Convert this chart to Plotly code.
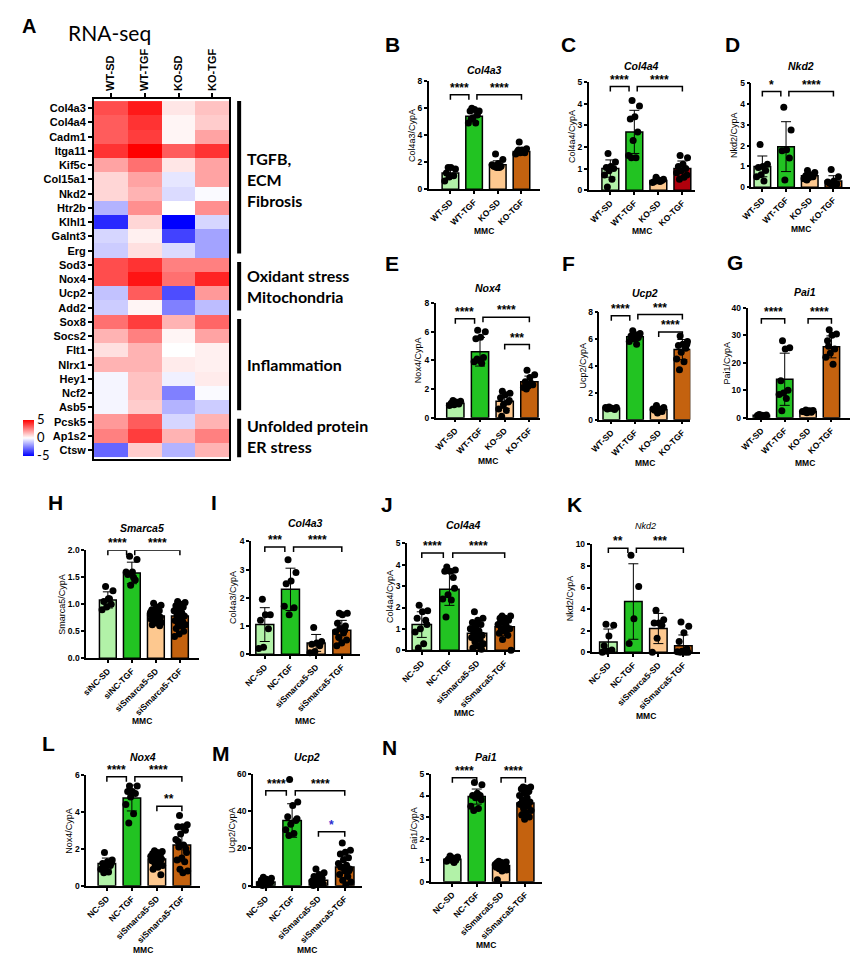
import plotly.graph_objects as go

W, H = 858, 954
FONT = "Liberation Sans, Arial, sans-serif"
FONT_CAL = "Lato, Open Sans, sans-serif"

# ---------------- Heatmap data (panel A) ----------------
genes = ["Col4a3", "Col4a4", "Cadm1", "Itga11", "Kif5c", "Col15a1", "Nkd2", "Htr2b", "Klhl1", "Galnt3", "Erg",
         "Sod3", "Nox4", "Ucp2", "Add2",
         "Sox8", "Socs2", "Flt1", "Nlrx1", "Hey1", "Ncf2", "Asb5",
         "Pcsk5", "Ap1s2", "Ctsw"]
conditions = ["WT-SD", "WT-TGF", "KO-SD", "KO-TGF"]
heat_z = [
    [3.5, 4.5, 0.5, 1.2],
    [3.2, 4.0, 0.2, 1.0],
    [3.2, 3.8, 0.2, 1.8],
    [4.0, 5.0, 3.2, 4.0],
    [1.8, 2.8, 0.5, 1.8],
    [0.8, 1.8, -0.5, 1.8],
    [0.8, 1.5, -0.7, -0.1],
    [-1.5, 2.2, 0.0, 2.2],
    [-4.2, 0.8, -5.0, -0.8],
    [-0.8, 0.3, -3.7, -1.8],
    [-1.0, 0.6, -0.7, -1.8],
    [3.5, 4.0, 2.5, 2.5],
    [3.5, 4.6, 2.8, 4.3],
    [-1.2, 3.2, -3.5, 2.0],
    [-1.0, 0.2, -2.5, -1.3],
    [2.8, 3.8, 1.5, 3.0],
    [1.5, 2.5, 0.2, 1.8],
    [0.6, 1.5, 0.0, 0.3],
    [1.5, 1.5, 0.4, 0.3],
    [-0.2, 1.2, -0.3, 0.4],
    [-0.2, 1.2, -2.5, -0.1],
    [-0.2, 1.0, -1.5, -1.0],
    [2.0, 3.2, -0.8, 1.5],
    [2.5, 3.8, 1.5, 2.5],
    [-3.0, 1.0, -1.5, 1.5],
]
gene_group_labels = ["TGFB,<br>ECM<br>Fibrosis", "Oxidant stress<br>Mitochondria", "Inflammation",
                     "Unfolded protein<br>ER stress"]
gene_group_sizes = [11, 4, 7, 3]

# ---------------- Bar chart data ----------------
cats_mmc = ["WT-SD", "WT-TGF", "KO-SD", "KO-TGF"]
cats_si = ["siNC-SD", "siNC-TGF", "siSmarca5-SD", "siSmarca5-TGF"]
cats_nc = ["NC-SD", "NC-TGF", "siSmarca5-SD", "siSmarca5-TGF"]

# B Col4a3
b_mean = [1.2, 5.4, 1.8, 2.8]
b_sd = [0.35, 0.4, 0.3, 0.25]
b_pts = [[1.6, 1.5, 1.6, 1.2, 1.0, 0.9, 0.6],
         [6.0, 5.8, 5.9, 5.8, 5.5, 5.3, 4.9, 4.9, 5.2],
         [2.6, 2.2, 1.9, 1.7, 1.7, 1.6, 1.8, 1.6, 1.7],
         [3.5, 3.0, 2.9, 2.8, 2.7, 2.7, 2.6, 2.8, 2.9]]
b_sig = [(0, 1, 7.0, "****"), (1, 3, 7.0, "****")]

# C Col4a4
c_mean = [1.0, 2.7, 0.45, 1.0]
c_sd = [0.4, 1.0, 0.08, 0.35]
c_pts = [[1.7, 1.3, 1.1, 1.05, 1.0, 0.9, 0.7, 0.5, 0.15],
         [4.15, 3.9, 3.4, 3.3, 2.7, 2.3, 1.6, 1.5, 1.5],
         [0.6, 0.5, 0.45, 0.4, 0.45, 0.5, 0.35, 0.4],
         [1.6, 1.5, 1.2, 1.1, 1.0, 0.9, 0.8, 0.6, 0.5, 0.7]]
c_sig = [(0, 1, 4.8, "****"), (1, 3, 4.8, "****")]

# D Nkd2
d_mean = [1.0, 1.95, 0.55, 0.3]
d_sd = [0.5, 1.2, 0.15, 0.25]
d_pts = [[2.05, 1.1, 1.0, 0.95, 0.8, 0.6, 0.5, 0.3],
         [3.85, 2.75, 1.8, 1.75, 1.4, 0.35],
         [0.8, 0.7, 0.6, 0.55, 0.5, 0.45, 0.4, 0.5, 0.35],
         [0.85, 0.5, 0.3, 0.2, 0.15, 0.1, 0.25]]
d_sig = [(0, 1, 4.6, "*"), (1, 3, 4.6, "****")]

# E Nox4
e_mean = [1.0, 4.6, 1.15, 2.5]
e_sd = [0.15, 1.0, 0.5, 0.4]
e_pts = [[1.2, 1.15, 1.1, 1.0, 0.95, 0.9, 0.85, 1.05],
         [6.1, 6.0, 5.6, 5.5, 4.2, 4.0, 3.9, 3.8, 4.1],
         [1.85, 1.7, 1.6, 1.4, 1.1, 0.9, 0.6, 0.5, 0.1, 1.2],
         [3.3, 3.0, 2.8, 2.5, 2.3, 2.2, 2.1, 2.4, 2.0]]
e_sig = [(0, 1, 6.9, "****"), (1, 3, 7.0, "****"), (2, 3, 5.1, "***")]

# F Ucp2
f_mean = [0.85, 6.15, 0.75, 5.2]
f_sd = [0.08, 0.25, 0.2, 0.75]
f_pts = [[0.95, 0.9, 0.85, 0.8, 0.75, 0.85, 0.9],
         [6.6, 6.4, 6.3, 6.2, 6.1, 6.0, 5.8, 5.6, 6.2],
         [1.05, 0.9, 0.8, 0.7, 0.6, 0.5, 0.8, 0.75],
         [6.2, 5.8, 5.6, 5.5, 5.3, 5.0, 4.5, 4.3, 3.7, 5.6]]
f_sig = [(0, 1, 7.7, "****"), (1, 3, 7.8, "***"), (2, 3, 6.5, "****")]

# G Pai1
g_mean = [0.9, 14.0, 2.2, 25.8]
g_sd = [0.3, 9.5, 0.4, 4.0]
g_pts = [[1.2, 1.0, 0.9, 0.8, 0.7, 0.9],
         [28.0, 25.5, 25.0, 13.5, 10.0, 9.0, 8.5, 7.0, 2.5],
         [2.8, 2.6, 2.4, 2.2, 2.0, 1.8, 2.3, 2.5],
         [32.0, 30.5, 30.0, 28.0, 25.0, 23.5, 22.0, 19.5, 26.0]]
g_sig = [(0, 1, 36.0, "****"), (2, 3, 36.0, "****")]

# H Smarca5
h_mean = [1.08, 1.58, 0.78, 0.78]
h_sd = [0.15, 0.2, 0.12, 0.18]
h_pts = [[1.33, 1.25, 1.1, 1.05, 1.0, 0.95, 0.9, 1.1],
         [1.89, 1.83, 1.6, 1.55, 1.45, 1.35, 1.6, 1.5],
         [1.02, 0.98, 0.95, 0.9, 0.88, 0.85, 0.82, 0.8, 0.78, 0.76, 0.75, 0.72, 0.7, 0.68, 0.66, 0.65,
          0.62, 0.6, 0.8, 0.85],
         [1.05, 1.03, 1.0, 0.97, 0.95, 0.9, 0.88, 0.85, 0.8, 0.78, 0.75, 0.7, 0.68, 0.65, 0.62, 0.6,
          0.55, 0.5, 0.45, 0.4, 0.82, 0.92]]
h_sig = [(0, 1, 2.0, "****"), (1, 3, 2.0, "****")]

# I Col4a3
i_mean = [1.05, 2.3, 0.4, 0.85]
i_sd = [0.6, 0.75, 0.3, 0.35]
i_pts = [[1.95, 1.4, 1.4, 1.2, 0.9, 0.25, 0.2],
         [3.35, 2.9, 2.6, 2.5, 1.65, 1.4, 1.7],
         [0.95, 0.45, 0.4, 0.35, 0.3, 0.1, 0.05],
         [1.45, 1.45, 1.4, 1.1, 1.0, 0.9, 0.8, 0.75, 0.6, 0.5, 0.4, 0.3, 0.85, 0.9]]
i_sig = [(0, 1, 3.8, "***"), (1, 3, 3.8, "****")]

# J Col4a4
j_mean = [1.2, 2.85, 0.8, 1.1]
j_sd = [0.6, 0.75, 0.45, 0.4]
j_pts = [[2.1, 1.85, 1.8, 1.5, 1.4, 1.0, 0.85, 0.3, 0.1, 1.2],
         [3.9, 3.75, 3.7, 3.7, 3.4, 2.6, 2.4, 2.35, 1.55, 2.9],
         [1.8, 1.5, 1.4, 1.3, 1.2, 1.1, 1.0, 0.9, 0.8, 0.7, 0.65, 0.6, 0.5, 0.4, 0.3, 0.2, 0.1, 0.05,
          0.9, 1.0],
         [1.6, 1.6, 1.5, 1.5, 1.4, 1.3, 1.2, 1.1, 1.0, 1.0, 0.9, 0.8, 0.7, 0.5, 0.0, 1.2, 1.3]]
j_sig = [(0, 1, 4.55, "****"), (1, 3, 4.55, "****")]

# K Nkd2
k_mean = [0.95, 4.7, 2.2, 0.6]
k_sd = [1.2, 3.5, 1.4, 1.0]
k_pts = [[2.6, 2.5, 1.5, 0.6, 0.2, 0.1, 0.0],
         [9.0, 6.1, 3.1, 0.8],
         [3.9, 3.0, 2.7, 2.7, 2.5, 1.3, 0.0],
         [2.8, 2.4, 1.8, 1.0, 0.3, 0.1, 0.05, 0.0, 0.0, 0.0]]
k_sig = [(0, 1, 9.65, "**"), (1, 3, 9.65, "***")]

# L Nox4
l_mean = [1.2, 4.75, 1.45, 2.2]
l_sd = [0.3, 0.7, 0.35, 0.9]
l_pts = [[1.8, 1.4, 1.3, 1.2, 1.1, 1.0, 0.9, 0.75, 0.7, 1.25],
         [5.4, 5.4, 5.1, 5.1, 5.0, 4.8, 4.4, 3.9, 3.4],
         [1.9, 1.85, 1.8, 1.75, 1.7, 1.65, 1.6, 1.55, 1.5, 1.45, 1.4, 1.35, 1.3, 1.2, 1.1, 1.0, 0.9,
          0.6, 1.5, 1.6],
         [3.8, 3.3, 3.2, 3.2, 3.0, 2.8, 2.5, 2.2, 2.1, 1.8, 1.5, 1.4, 1.3, 0.9, 0.8, 0.7, 2.4, 2.0]]
l_sig = [(0, 1, 5.9, "****"), (1, 3, 5.9, "****"), (2, 3, 4.3, "**")]

# M Ucp2
m_mean = [2.0, 35.0, 3.0, 10.0]
m_sd = [1.5, 9.0, 2.5, 6.0]
m_pts = [[4.5, 4.0, 3.5, 3.0, 2.0, 1.5, 1.0, 0.5, 0.2, 1.8],
         [57.0, 45.0, 43.0, 37.0, 35.0, 33.0, 30.0, 28.0, 27.0, 36.0],
         [9.0, 7.0, 6.0, 5.0, 4.0, 3.0, 2.5, 2.0, 1.5, 1.0, 0.5, 0.2, 3.0, 3.5],
         [23.0, 19.0, 18.0, 17.0, 15.0, 14.0, 12.0, 11.0, 10.0, 9.0, 8.0, 6.0, 5.0, 3.0, 2.0, 0.5,
          10.0, 8.0]]
m_sig = [(0, 1, 51.0, "****"), (1, 3, 51.0, "****"), (2, 3, 29.0, "*")]

# N Pai1
n_mean = [1.05, 3.95, 0.75, 3.65]
n_sd = [0.1, 0.35, 0.15, 0.4]
n_pts = [[1.2, 1.15, 1.1, 1.05, 1.0, 1.0, 0.95, 0.9, 1.05, 1.1],
         [4.6, 4.5, 4.1, 4.0, 4.0, 3.9, 3.5, 3.4, 3.3, 3.8],
         [0.95, 0.92, 0.9, 0.88, 0.85, 0.82, 0.8, 0.78, 0.75, 0.72, 0.7, 0.68, 0.65, 0.6, 0.55, 0.5,
          0.1, 0.8, 0.85],
         [4.4, 4.4, 4.35, 4.3, 4.2, 4.1, 4.0, 3.9, 3.8, 3.7, 3.65, 3.6, 3.5, 3.4, 3.3, 3.2, 3.1, 3.0,
          2.9, 3.6, 3.7]]
n_sig = [(0, 1, 4.82, "****"), (2, 3, 4.82, "****")]

# ---------------- styles ----------------
LG, G, LO, OR, DR = "#b2f2a8", "#22c322", "#fdc88f", "#c4620f", "#b0000c"
pal = [LG, G, LO, OR]
pal_c = [LG, G, LO, DR]
BLUE_STAR = "#2b2bd0"


def px_x(p):
    return p / W


def px_y(p):
    return 1 - p / H


# geometry: box=(left, right, top, bottom) in px; c=(first bar px, last bar px); ylo = y-title offset
panels = [
    dict(L="B", title="Col4a3", yl="Col4a3/CypA", cats=cats_mmc, mean=b_mean, sd=b_sd, pts=b_pts, sig=b_sig,
         col=pal, ymax=8, dt=2, fmt="", box=(415, 528, 69, 178), c=(437, 509), Lxy=(378, 32), ty=58,
         ylo=17, mmc=220),
    dict(L="C", title="Col4a4", yl="Col4a4/CypA", cats=cats_mmc, mean=c_mean, sd=c_sd, pts=c_pts, sig=c_sig,
         col=pal_c, ymax=5, dt=1, fmt="", box=(577, 685, 70, 179), c=(599, 672), Lxy=(557, 32), ty=54,
         ylo=17, mmc=220),
    dict(L="D", title="Nkd2", yl="Nkd2/CypA", cats=cats_mmc, mean=d_mean, sd=d_sd, pts=d_pts, sig=d_sig,
         col=pal, ymax=5, dt=1, fmt="", box=(742, 843, 71, 176), c=(753, 825), Lxy=(723, 32), ty=54,
         ylo=17, mmc=218),
    dict(L="E", title="Nox4", yl="Nox4/CypA", cats=cats_mmc, mean=e_mean, sd=e_sd, pts=e_pts, sig=e_sig,
         col=pal, ymax=8, dt=2, fmt="", box=(422, 528, 293, 409), c=(442, 517), Lxy=(378, 253), ty=278,
         ylo=17, mmc=453),
    dict(L="F", title="Ucp2", yl="Ucp2/CypA", cats=cats_mmc, mean=f_mean, sd=f_sd, pts=f_pts, sig=f_sig,
         col=pal, ymax=8, dt=2, fmt="", box=(588, 680, 302, 411), c=(600, 672), Lxy=(557, 253), ty=283,
         ylo=17, mmc=455),
    dict(L="G", title="Pai1", yl="Pai1/CypA", cats=cats_mmc, mean=g_mean, sd=g_sd, pts=g_pts, sig=g_sig,
         col=pal, ymax=40, dt=10, fmt="", box=(738, 855, 298, 409), c=(752, 823), Lxy=(725, 252), ty=282,
         ylo=21, mmc=455),
    dict(L="H", title="Smarca5", yl="Smarca5/CypA", cats=cats_si, mean=h_mean, sd=h_sd, pts=h_pts, sig=h_sig,
         col=pal, ymax=2, dt=0.5, fmt=".1f", box=(68, 182, 543, 652), c=(90, 163), Lxy=(37, 495), ty=520,
         ylo=24, mmc=715),
    dict(L="I", title="Col4a3", yl="Col4a3/CypA", cats=cats_nc, mean=i_mean, sd=i_sd, pts=i_pts, sig=i_sig,
         col=pal, ymax=4, dt=1, fmt="", box=(235, 345, 534, 648), c=(249, 327), Lxy=(198, 495), ty=515,
         ylo=18, mmc=715),
    dict(L="J", title="Col4a4", yl="Col4a4/CypA", cats=cats_nc, mean=j_mean, sd=j_sd, pts=j_pts, sig=j_sig,
         col=pal, ymax=5, dt=1, fmt="", box=(393, 508, 536, 644), c=(408, 492), Lxy=(373, 497), ty=517,
         ylo=17, mmc=707),
    dict(L="K", title="Nkd2", yl="Nkd2/CypA", cats=cats_nc, mean=k_mean, sd=k_sd, pts=k_pts, sig=k_sig,
         col=pal, ymax=10, dt=2, fmt="", box=(580, 690, 537, 646), c=(597, 673), Lxy=(563, 497), ty=518,
         ylo=22, mmc=710, tstyle="thin"),
    dict(L="L", title="Nox4", yl="Nox4/CypA", cats=cats_nc, mean=l_mean, sd=l_sd, pts=l_pts, sig=l_sig,
         col=pal, ymax=6, dt=2, fmt="", box=(68, 183, 770, 882), c=(89, 165), Lxy=(30, 738), ty=752,
         ylo=17, mmc=947),
    dict(L="M", title="Ucp2", yl="Ucp2/CypA", cats=cats_nc, mean=m_mean, sd=m_sd, pts=m_pts, sig=m_sig,
         col=pal, ymax=60, dt=20, fmt="", box=(237, 347, 769, 882), c=(250, 330), Lxy=(205, 748), ty=752,
         ylo=21, mmc=947, starcol={"*": BLUE_STAR}),
    dict(L="N", title="Pai1", yl="Pai1/CypA", cats=cats_nc, mean=n_mean, sd=n_sd, pts=n_pts, sig=n_sig,
         col=pal, ymax=5, dt=1, fmt="", box=(417, 530, 769, 878), c=(439, 513), Lxy=(375, 742), ty=752,
         ylo=17, mmc=942),
]

fig = go.Figure()
layout = dict(width=W, height=H, margin=dict(l=0, r=0, t=0, b=0), paper_bgcolor="white",
              plot_bgcolor="white", showlegend=False, font=dict(family=FONT, color="black"))
annotations = []
shapes = []

# ---------------- Heatmap ----------------
HM_L, HM_R, HM_T, HM_B = 76, 213, 87, 451
fig.add_trace(go.Heatmap(
    z=heat_z, x=conditions, y=genes, zmin=-5, zmax=5,
    colorscale=[[0, "rgb(0,0,255)"], [0.5, "rgb(255,255,255)"], [1, "rgb(255,0,0)"]],
    xaxis="x", yaxis="y", xgap=0, ygap=0,
    colorbar=dict(x=px_x(4), xanchor="left", y=px_y(429), yanchor="middle", len=36, lenmode="pixels",
                  thickness=11, tickvals=[-5, 0, 5], ticktext=["-5", "0", "5"], ticks="",
                  outlinewidth=0, tickfont=dict(size=13, family=FONT_CAL, color="black"), ypad=0, xpad=0),
))
layout["xaxis"] = dict(domain=[px_x(HM_L), px_x(HM_R)], anchor="y", side="top", tickangle=-90,
                       ticks="outside", ticklen=4, tickwidth=1.5, tickcolor="black", showline=True,
                       mirror=True, linewidth=2, linecolor="black", showgrid=False, zeroline=False,
                       tickfont=dict(size=11, weight="bold", family=FONT))
layout["yaxis"] = dict(domain=[px_y(HM_B), px_y(HM_T)], anchor="x", autorange="reversed",
                       ticks="outside", ticklen=4, tickwidth=1.5, tickcolor="black", showline=True,
                       mirror=True, linewidth=2, linecolor="black", showgrid=False, zeroline=False,
                       tickfont=dict(size=11, weight="bold", family=FONT))

start = 0
for lab, size in zip(gene_group_labels, gene_group_sizes):
    end = start + size - 1
    y0 = start - 0.5 + (0.0 if start == 0 else 0.3)
    y1 = end + 0.5 - (0.0 if end == len(genes) - 1 else 0.3)
    shapes.append(dict(type="line", xref="paper", yref="y", x0=px_x(223), x1=px_x(223), y0=y0, y1=y1,
                       line=dict(color="black", width=4)))
    annotations.append(dict(xref="paper", yref="y", x=px_x(229), y=(start + end) / 2, text=lab,
                            showarrow=False, xanchor="left", yanchor="middle", align="left",
                            font=dict(size=16, family=FONT_CAL, weight="bold")))
    start = end + 1

annotations.append(dict(xref="paper", yref="paper", x=px_x(10), y=px_y(13), text="A", showarrow=False,
                        xanchor="center", yanchor="middle", font=dict(size=20, weight="bold")))
annotations.append(dict(xref="paper", yref="paper", x=px_x(92), y=px_y(20), text="RNA-seq", showarrow=False,
                        xanchor="center", yanchor="middle", font=dict(size=21, family=FONT_CAL)))

# ---------------- Bar panels ----------------
for k, p in enumerate(panels):
    n = k + 2
    xa, ya = f"x{n}", f"y{n}"
    left, right, top, bottom = p["box"]
    c0, c3 = p["c"]
    s = (c3 - c0) / 3.0
    xr = [(left - c0) / s, (right - c0) / s]
    fig.add_trace(go.Bar(
        x=[0, 1, 2, 3], y=p["mean"], width=0.7, xaxis=xa, yaxis=ya,
        marker=dict(color=p["col"], line=dict(color="black", width=1.5)),
        error_y=dict(type="data", array=p["sd"], color="black", thickness=1, width=5),
    ))
    xs, ys = [], []
    for gi, vals in enumerate(p["pts"]):
        for ii, v in enumerate(vals):
            off = ((ii * 0.618034 + 0.31) % 1.0 - 0.5) * 0.5
            xs.append(gi + off)
            ys.append(v)
    fig.add_trace(go.Scatter(x=xs, y=ys, mode="markers", xaxis=xa, yaxis=ya, cliponaxis=False,
                             marker=dict(color="black", size=7, line=dict(width=0))))
    layout[f"xaxis{n}"] = dict(domain=[px_x(left), px_x(right)], anchor=ya, range=xr, tickmode="array",
                               tickvals=[0, 1, 2, 3], ticktext=p["cats"], tickangle=-45, ticks="outside",
                               ticklen=3, tickwidth=1.5, tickcolor="black", showline=True, linewidth=1.5,
                               linecolor="black", showgrid=False, zeroline=False,
                               tickfont=dict(size=8.5, weight="bold", family=FONT))
    layout[f"yaxis{n}"] = dict(domain=[px_y(bottom), px_y(top)], anchor=xa, range=[0, p["ymax"]],
                               tickmode="linear", tick0=0, dtick=p["dt"], tickformat=p["fmt"],
                               ticks="outside", ticklen=3, tickwidth=1.5, tickcolor="black", showline=True,
                               linewidth=1.5, linecolor="black", showgrid=False, zeroline=False,
                               tickfont=dict(size=8.5, weight="bold", family=FONT))
    # significance brackets
    tick = 5.0 / (bottom - top) * p["ymax"]
    sig = p["sig"]
    for (i, j, yv, txt) in sig:
        shared_left = any(q[1] == i and abs(q[2] - yv) < 0.05 * p["ymax"] for q in sig)
        shared_right = any(q[0] == j and abs(q[2] - yv) < 0.05 * p["ymax"] for q in sig)
        x0 = i + (0.12 if shared_left else 0.0)
        x1 = j - (0.22 if shared_right else 0.0)
        shapes.append(dict(type="path", xref=xa, yref=ya,
                           path=f"M {x0},{yv - tick} L {x0},{yv} L {x1},{yv} L {x1},{yv - tick}",
                           line=dict(color="black", width=1.5)))
        col = p.get("starcol", {}).get(txt, "black")
        annotations.append(dict(xref=xa, yref=ya, x=(x0 + x1) / 2, y=yv, text=txt, showarrow=False,
                                xanchor="center", yanchor="bottom", yshift=-2,
                                font=dict(size=12, weight="bold", color=col, family=FONT)))
    # labels
    cx = (left + right) / 2
    annotations.append(dict(xref="paper", yref="paper", x=px_x(p["Lxy"][0]), y=px_y(p["Lxy"][1]),
                            text=p["L"], showarrow=False, xanchor="center", yanchor="middle",
                            font=dict(size=21, weight="bold", family=FONT)))
    thin = p.get("tstyle") == "thin"
    annotations.append(dict(xref="paper", yref="paper", x=px_x(cx), y=px_y(p["ty"]), text=p["title"],
                            showarrow=False, xanchor="center", yanchor="middle",
                            font=dict(size=9 if thin else 10.5, weight="normal" if thin else "bold",
                                      style="italic", family=FONT)))
    annotations.append(dict(xref="paper", yref="paper", x=px_x(left - p["ylo"]), y=px_y((top + bottom) / 2),
                            text=p["yl"], showarrow=False, textangle=-90, xanchor="center",
                            yanchor="middle", font=dict(size=9, family=FONT)))
    annotations.append(dict(xref="paper", yref="paper", x=px_x(cx), y=px_y(p["mmc"]), text="MMC",
                            showarrow=False, xanchor="center", yanchor="middle",
                            font=dict(size=8.5, weight="bold", family=FONT)))

layout["annotations"] = annotations
layout["shapes"] = shapes
fig.update_layout(**layout)
fig.write_html("out.html")
